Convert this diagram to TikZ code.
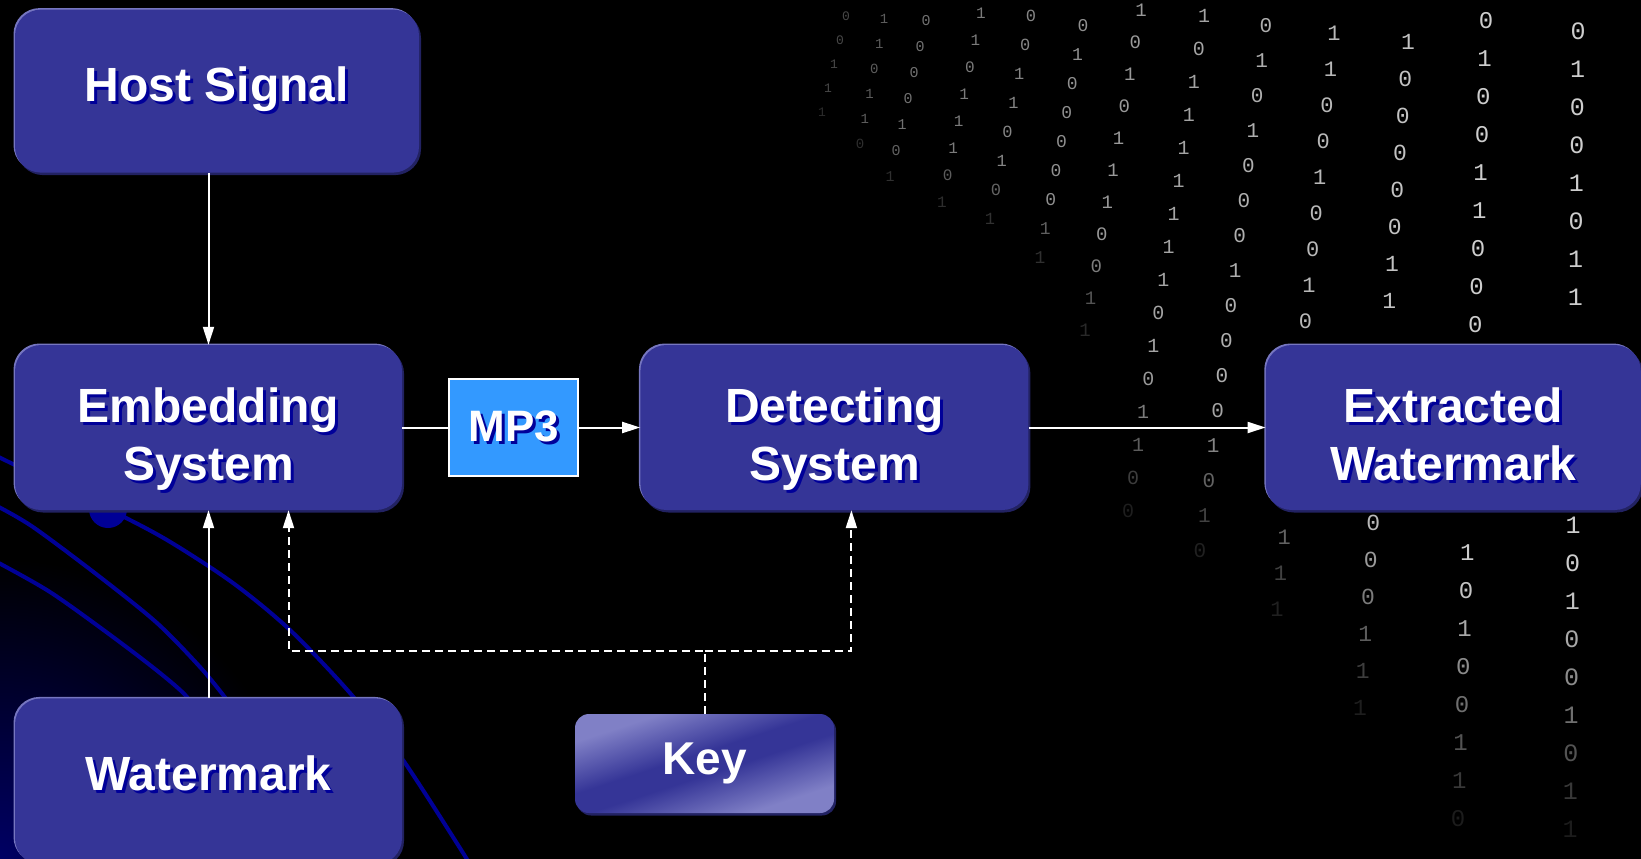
\documentclass[tikz,border=0pt]{standalone}
\usepackage{fontspec}
\setmainfont{Liberation Sans}
\newfontfamily\bitfont{Liberation Mono}
\usetikzlibrary{positioning,shadows,arrows.meta}
\definecolor{boxblue}{RGB}{53,53,151}
\definecolor{edgelight}{RGB}{118,118,192}
\definecolor{edgedark}{RGB}{34,34,98}
\definecolor{txtshadow}{RGB}{0,0,153}
\definecolor{mpblue}{RGB}{51,153,255}
\definecolor{curveblue}{RGB}{0,0,150}
\definecolor{keylight}{RGB}{128,128,198}
\definecolor{glowblue}{RGB}{0,0,100}
\definecolor{bitgray}{RGB}{205,205,205}
\pgfdeclarehorizontalshading{keyshade}{100bp}{color(0bp)=(keylight); color(28bp)=(keylight); color(46bp)=(boxblue); color(54bp)=(boxblue); color(72bp)=(keylight); color(100bp)=(keylight)}
\newcommand\shd[1]{\rlap{\hspace{3pt}\raisebox{-3pt}{\color{txtshadow}#1}}#1}

\begin{document}
\begin{tikzpicture}[x=1pt, y=-1pt,
  box/.style={fill=boxblue, rounded corners=26pt, inner sep=0pt, text=white, align=center,
    font=\fontsize{48}{58}\selectfont\bfseries,
    general shadow={shadow xshift=-1.5pt, shadow yshift=1.5pt, fill=edgelight},
    drop shadow={shadow xshift=2pt, shadow yshift=-2.5pt, fill=edgedark, opacity=1}},
  twoline/.style={text height=105pt, text depth=0pt},
  mpbox/.style={fill=mpblue, draw=white, line width=2pt, inner sep=0pt, text=white,
    font=\fontsize{44}{50}\selectfont\bfseries},
  keybox/.style={shading=keyshade, shading angle=-72, rounded corners=14pt, inner sep=0pt, text=white,
    font=\fontsize{46}{50}\selectfont\bfseries,
    drop shadow={shadow xshift=2pt, shadow yshift=-2.5pt, fill=edgedark, opacity=1}},
  bit/.style={text=bitgray, inner sep=0pt},
  wire/.style={draw=white, line width=2pt},
  flow/.style={wire, -{Triangle[length=18pt,width=11pt]}},
  keyline/.style={flow, dash pattern=on 8pt off 5pt},
  curve/.style={draw=curveblue, line width=4pt}]

% background
\fill[black] (0,0) rectangle (1641,859);
\useasboundingbox (0,0) rectangle (1641,859);
\shade[inner color=glowblue, outer color=black] (0,859) circle (300pt);

% falling bits (none behind the right block)
\pgfmathsetseed{42}
\foreach \xa/\xz/\ya/\cnt/\gap/\fs/\br in {846/822/16/4/24/13/0.35, 884/860/19/5/25/14/0.45,
  926/890/21/6/26/15/0.55, 981/942/13/7/27/16/0.6, 1031/990/16/7/29/17/0.65,
  1083/1040/26/8/29/18/0.7, 1141/1085/10/10/32/19/0.75, 1204/1128/16/15/33/20/0.8,
  1266/1200/26/15/35/21/0.85, 1334/1277/33/16/36/22/0.9, 1408/1360/42/18/37/23/0.95,
  1486/1458/21/21/38/24/1, 1578/1570/31/21/38/25/1}{
  \foreach \k in {0,...,\cnt}{
    \pgfmathrandominteger{\dig}{0}{1}
    \pgfmathsetmacro{\op}{\br*min(1,3*(1-\k/(\cnt+1)))}
    \pgfmathsetmacro{\px}{\xa+(\xz-\xa)*\k/\cnt}
    \pgfmathsetmacro{\py}{\ya+\gap*\k}
    \pgfmathtruncatemacro{\hid}{and(\px>1250, and(\py>330, \py<522))}
    \ifnum\hid=0
      \node[bit, opacity=\op, font=\bitfont\fontsize{\fs}{\fs}\selectfont] (b\xa-\k) at (\px,\py) {\dig};
    \fi
  }
}

% blue swirls
\draw[curve] plot[smooth] coordinates {(-5,505) (33,527) (100,577) (157,623) (200,667) (227,700) (240,720)};
\draw[curve] plot[smooth] coordinates {(-5,561) (50,592) (113,637) (160,673) (187,697) (200,720)};
\draw[curve] plot[smooth] coordinates {(-5,455) (15,465) (108,509) (167,540) (233,583) (290,630) (350,693) (403,760) (470,864)};
\fill[curveblue] (108,509) circle (19pt);

% blocks
\node[box, twoline, minimum width=387pt, minimum height=165pt] (embed) at (208.5,427.5) {\shd{Embedding}\\\shd{System}};
\node[box, minimum width=404pt, minimum height=163pt, above=172pt of embed.north west, anchor=south west] (host) {\shd{Host Signal}};
\node[box, text depth=16pt, minimum width=387pt, minimum height=166pt, below=188pt of embed] (water) {\shd{Watermark}};
\node[mpbox, minimum width=129pt, minimum height=97pt, right=46pt of embed] (mp3) {\shd{MP3}};
\node[box, twoline, minimum width=388pt, minimum height=165pt, right=61pt of mp3] (detect) {\shd{Detecting}\\\shd{System}};
\node[box, twoline, minimum width=375pt, minimum height=165pt, right=237pt of detect] (extract) {\shd{Extracted}\\\shd{Watermark}};
\node[keybox, minimum width=259pt, minimum height=99pt] (key) at (704.5,763.5) {Key};

% links
\draw[flow] (host.south -| embed.north) -- (embed.north);
\draw[wire] (embed) -- (mp3);
\draw[flow] (mp3) -- (detect);
\draw[flow] (detect) -- (extract);
\draw[flow] (water) -- (embed);
\draw[keyline] (key.north) -- ++(0,-63) coordinate (kj) -| ([xshift=80pt]embed.south);
\draw[keyline] (kj) -| ([xshift=17pt]detect.south);
\end{tikzpicture}
\end{document}
